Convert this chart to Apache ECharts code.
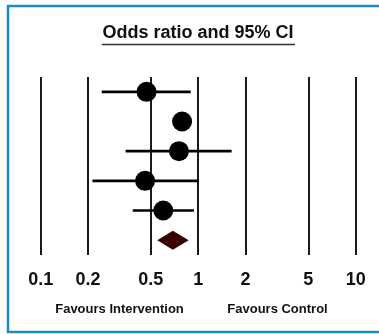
<!DOCTYPE html>
<html>
<head>
<meta charset="utf-8">
<script src="https://cdn.jsdelivr.net/npm/echarts@6/dist/echarts.min.js"></script>
<style>
html,body{margin:0;padding:0;background:#fff;overflow:hidden;}
#chart{width:379px;height:334px;}
</style>
</head>
<body>
<div id="chart"></div>
<script>
const tickValues = [0.1, 0.2, 0.5, 1, 2, 5, 10];
const tickLabels = ['0.1', '0.2', '0.5', '1', '2', '5', '10'];
const studyRows = [1, 2, 3, 4, 5];
const oddsRatios = [0.47, 0.79, 0.755, 0.46, 0.60];
const ciLow = [0.244, 0.72, 0.346, 0.213, 0.384];
const ciHigh = [0.896, 0.87, 1.63, 1.0, 0.94];
const pooledRow = 6;
const pooledOR = 0.69;
const pooledLow = 0.55;
const pooledHigh = 0.87;

const ciData = studyRows.map((r, i) => [ciLow[i], ciHigh[i], r]);
const pointData = studyRows.map((r, i) => [oddsRatios[i], r]);

const chart = echarts.init(document.getElementById('chart'));
chart.setOption({
  animation: false,
  backgroundColor: '#fff',
  grid: { left: 40.7, width: 315, top: 77, height: 178 },
  xAxis: {
    type: 'log',
    logBase: 10,
    min: 0.1,
    max: 10,
    axisLine: { show: false },
    axisTick: { show: false, customValues: tickValues },
    splitLine: { show: true, lineStyle: { color: '#1a1a1a', width: 2 } },
    axisLabel: {
      customValues: tickValues,
      formatter: v => tickLabels[tickValues.findIndex(t => Math.abs(t - v) < 1e-9)] ?? String(v),
      fontFamily: 'Liberation Sans',
      fontWeight: 'bold',
      fontSize: 18,
      color: '#111',
      margin: 16
    }
  },
  yAxis: {
    type: 'value',
    min: 0.5,
    max: 6.5,
    inverse: true,
    show: false
  },
  graphic: [
    { type: 'polyline', shape: { points: [[379, 6], [8, 6], [8, 332], [379, 332]] }, style: { fill: 'none', stroke: '#1d8bc9', lineWidth: 2.5 }, z: 10 },
    { type: 'text', x: 198, y: 33, style: { text: 'Odds ratio and 95% CI', font: 'bold 18px "Liberation Sans"', fill: '#111', textAlign: 'center', textVerticalAlign: 'middle' } },
    { type: 'line', shape: { x1: 101.7, y1: 44.5, x2: 295, y2: 44.5 }, style: { stroke: '#333', lineWidth: 1.5 } },
    { type: 'text', x: 119.5, y: 309.5, style: { text: 'Favours Intervention', font: 'bold 13px "Liberation Sans"', fill: '#111', textAlign: 'center', textVerticalAlign: 'middle' } },
    { type: 'text', x: 277.5, y: 309.5, style: { text: 'Favours Control', font: 'bold 13px "Liberation Sans"', fill: '#111', textAlign: 'center', textVerticalAlign: 'middle' } }
  ],
  series: [
    {
      type: 'custom',
      data: ciData,
      renderItem: (params, api) => {
        const p1 = api.coord([api.value(0), api.value(2)]);
        const p2 = api.coord([api.value(1), api.value(2)]);
        return { type: 'line', shape: { x1: p1[0], y1: p1[1], x2: p2[0], y2: p2[1] }, style: { stroke: '#000', lineWidth: 2.7 } };
      },
      z: 3
    },
    {
      type: 'scatter',
      data: pointData,
      symbol: 'circle',
      symbolSize: 20,
      itemStyle: { color: '#000', opacity: 1 },
      z: 4
    },
    {
      type: 'custom',
      data: [[pooledLow, pooledOR, pooledHigh, pooledRow]],
      renderItem: (params, api) => {
        const row = api.value(3);
        const l = api.coord([api.value(0), row]);
        const c = api.coord([api.value(1), row]);
        const r = api.coord([api.value(2), row]);
        const h = api.size([0, 1])[1] * 0.32;
        return {
          type: 'polygon',
          shape: { points: [[l[0], l[1]], [c[0], c[1] - h], [r[0], r[1]], [c[0], c[1] + h]] },
          style: { fill: '#3a0000' }
        };
      },
      z: 4
    }
  ]
});
</script>
</body>
</html>
